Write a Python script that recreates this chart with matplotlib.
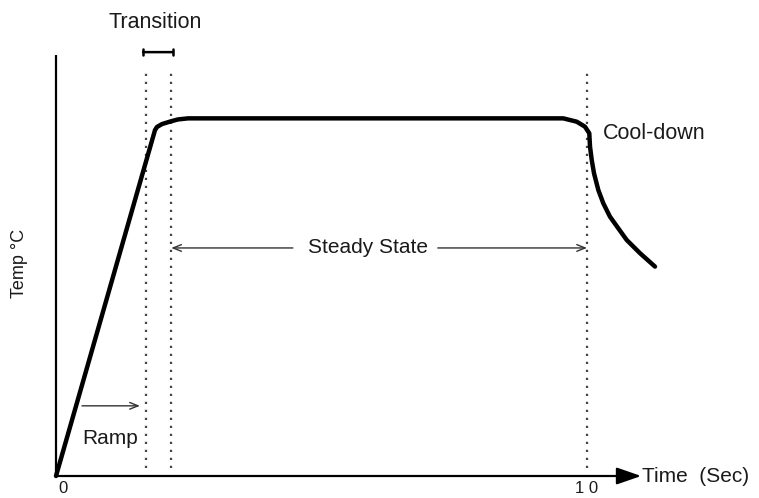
import matplotlib
matplotlib.use("Agg")
import matplotlib.pyplot as plt

plt.rcParams['font.family'] = ['Liberation Sans', 'DejaVu Sans']

# temperature profile (time in sec, temp in % of plateau)
time = [0, 1.864, 1.902, 1.996, 2.147, 2.298, 2.486, 9.554, 9.806, 9.962,
        10.043, 10.057, 10.089, 10.132, 10.213, 10.307, 10.433, 10.589,
        10.748, 11.0, 11.281]
temp = [0, 96.6, 97.5, 98.3, 99.0, 99.6, 99.9, 99.9, 98.97, 97.57,
        95.73, 91.98, 88.27, 84.55, 79.89, 76.17, 72.43, 69.19,
        65.92, 62.21, 58.49]

# phase boundaries (sec)
ramp_end = 1.70
transition_end = 2.17
steady_end = 10.0

x_ticks = [0, 10]
x_tick_labels = ["0", "1 0"]

txt = "#1a1a1a"

fig = plt.figure(figsize=(7.59, 4.98), dpi=100)
ax = fig.add_axes([0, 0, 1, 1])
ax.set_xlim(-56 / 53.1, (759 - 56) / 53.1)
ax.set_ylim(-(498 - 476) / 3.58, 476 / 3.58)
ax.axis("off")

# axes
ax.plot([0, 0], [0, 117.6], color="black", lw=1.6, solid_capstyle="butt")
ax.annotate("", xy=(11.02, 0), xytext=(0, 0),
            arrowprops=dict(arrowstyle="-|>,head_length=0.75,head_width=0.26",
                            mutation_scale=20, lw=1.6, color="black",
                            shrinkA=0, shrinkB=0))

# dotted phase lines
for xb in [ramp_end, transition_end, steady_end]:
    ax.plot([xb, xb], [2.2, 112.8], color="#444444", lw=1.6,
            linestyle=(0, (1.0, 2.6)))

# profile
ax.plot(time, temp, color="black", lw=3.2, solid_joinstyle="round",
        solid_capstyle="round")

# transition bracket
ax.annotate("", xy=(2.20, 118.4), xytext=(1.64, 118.4),
            arrowprops=dict(arrowstyle="|-|,widthA=0.12,widthB=0.12",
                            mutation_scale=20, lw=1.8, color="black",
                            shrinkA=0, shrinkB=0))
ax.text(1.86, 126.8, "Transition", fontsize=15.5, color=txt,
        ha="center", va="center")

# ramp
ax.annotate("", xy=(1.58, 19.6), xytext=(0.49, 19.6),
            arrowprops=dict(arrowstyle="->,head_length=0.3,head_width=0.12",
                            mutation_scale=20, lw=1.0, color="#333333",
                            shrinkA=0, shrinkB=0))
ax.text(1.02, 10.6, "Ramp", fontsize=15, color=txt, ha="center", va="center")

# steady state
ax.annotate("", xy=(transition_end, 63.7), xytext=(4.46, 63.7),
            arrowprops=dict(arrowstyle="->,head_length=0.3,head_width=0.12",
                            mutation_scale=20, lw=1.0, color="#333333",
                            shrinkA=0, shrinkB=0))
ax.annotate("", xy=(steady_end, 63.7), xytext=(7.19, 63.7),
            arrowprops=dict(arrowstyle="->,head_length=0.3,head_width=0.12",
                            mutation_scale=20, lw=1.0, color="#333333",
                            shrinkA=0, shrinkB=0))
ax.text(5.88, 63.7, "Steady State", fontsize=15, color=txt,
        ha="center", va="center")

ax.text(10.30, 95.8, "Cool-down", fontsize=15.5, color=txt, ha="left", va="center")
ax.text(11.04, 0, "Time  (Sec)", fontsize=15, color=txt, ha="left", va="center")

for xt, lab in zip(x_ticks, x_tick_labels):
    ax.text(xt + (0.13 if xt == 0 else 0), -3.6, lab, fontsize=12, color=txt,
            ha="center", va="center")

ax.text(-0.68, 59.5, "Temp °C", fontsize=13, color=txt, rotation=90,
        ha="center", va="center")

fig.savefig("out.png", dpi=100)
